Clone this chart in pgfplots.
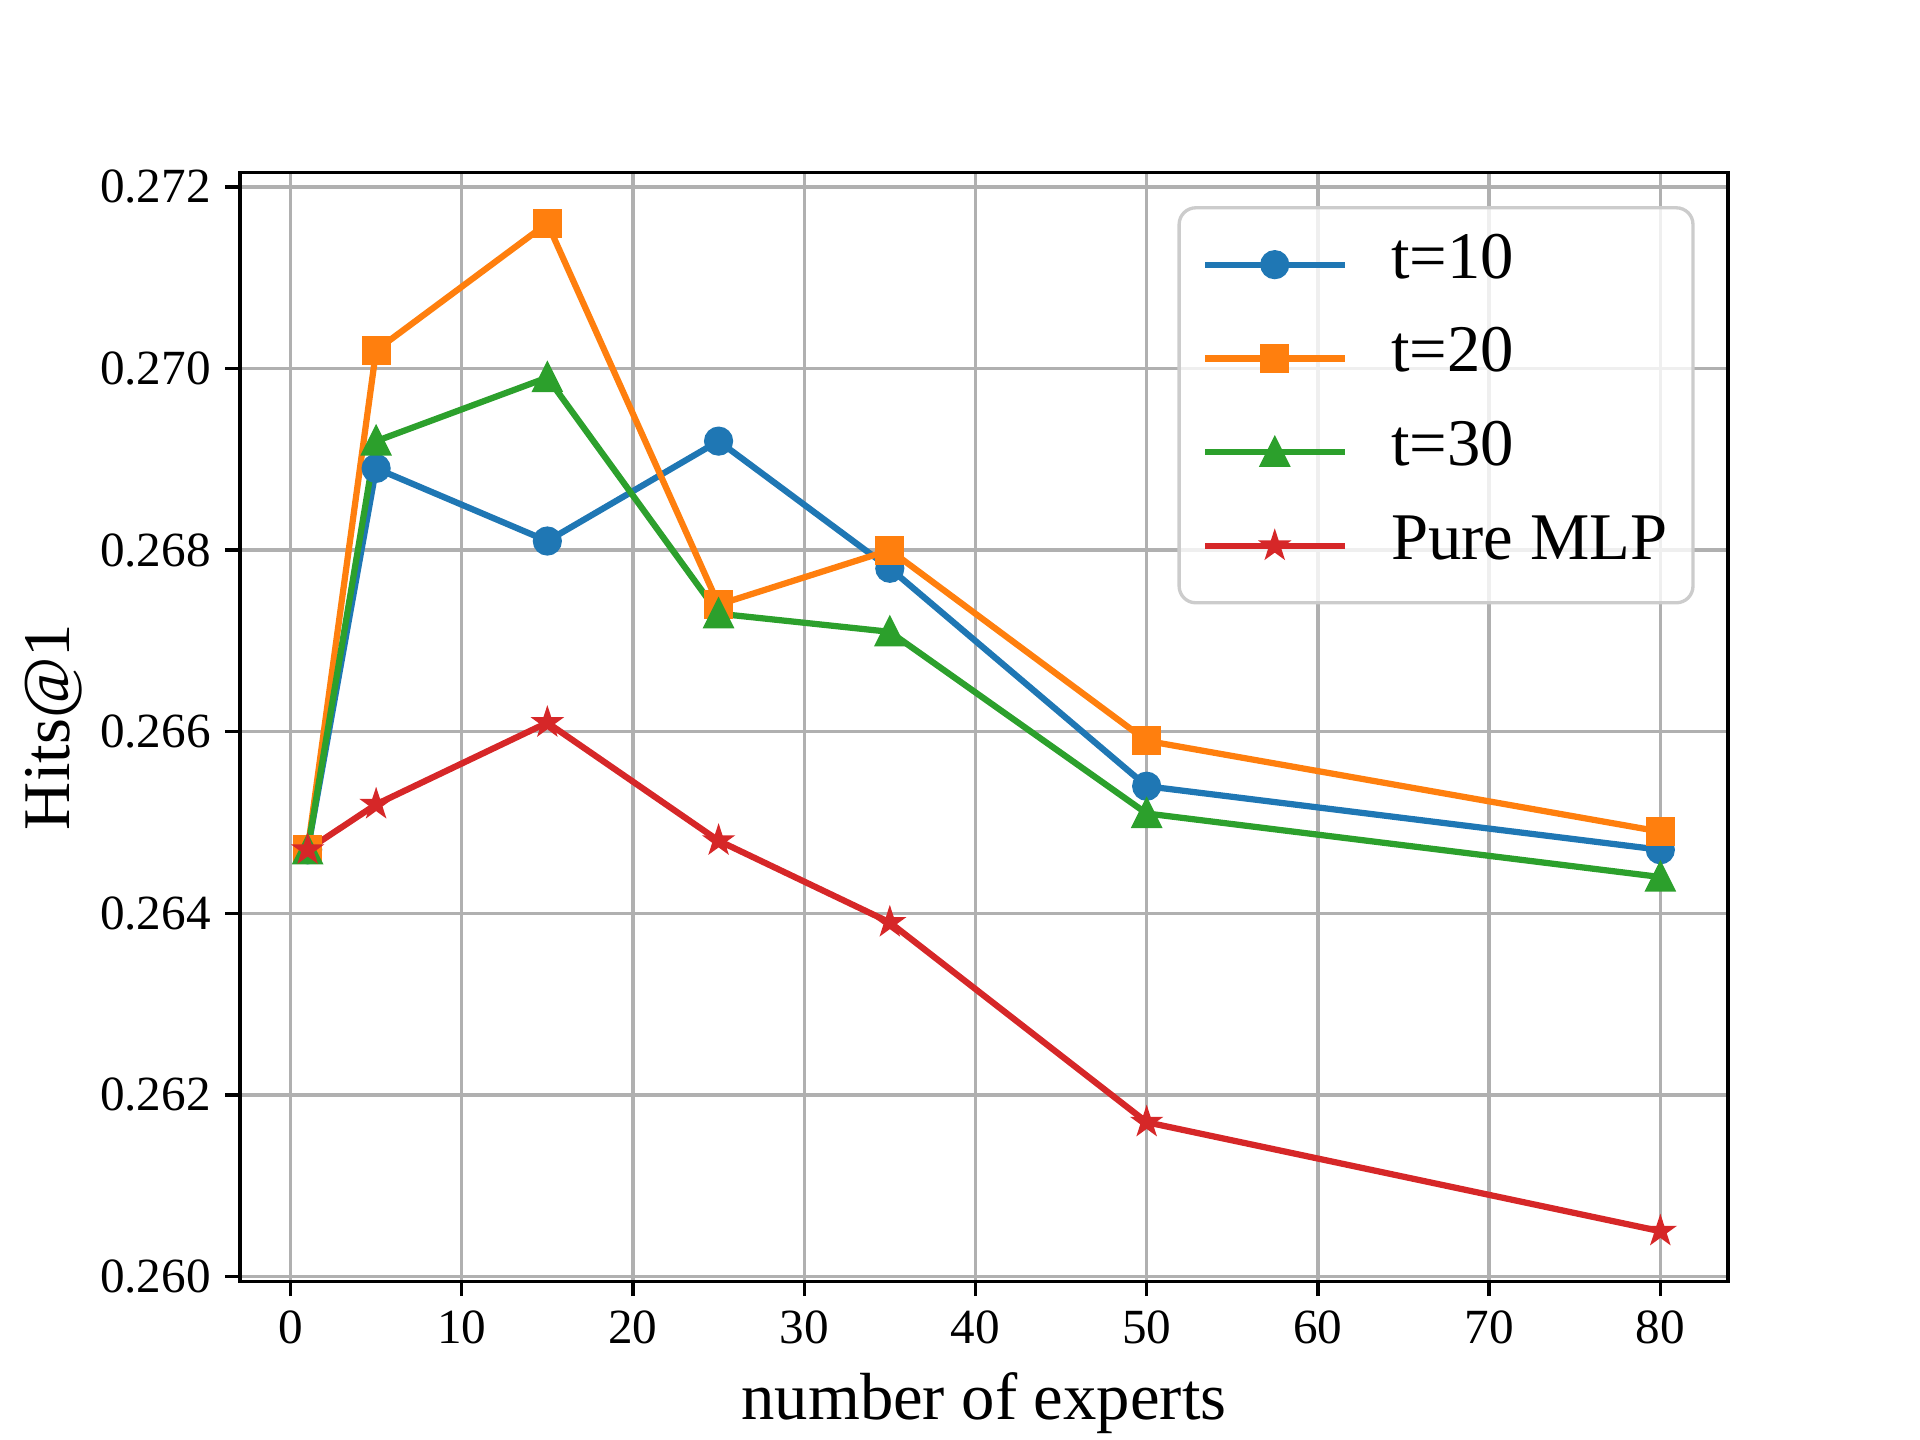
\documentclass[border=0pt]{standalone}
\usepackage{fontspec}
\setmainfont{Liberation Serif}
\usepackage{pgfplots}
\pgfplotsset{compat=1.18}
\definecolor{c1}{HTML}{1F77B4}
\definecolor{c2}{HTML}{FF7F0E}
\definecolor{c3}{HTML}{2CA02C}
\definecolor{c4}{HTML}{D62728}
\definecolor{gridc}{HTML}{B0B0B0}
\definecolor{legc}{HTML}{CCCCCC}
\pgfdeclareplotmark{mtri}{%
 \pgfpathmoveto{\pgfqpoint{0pt}{\pgfplotmarksize}}%
 \pgfpathlineto{\pgfqpoint{-\pgfplotmarksize}{-\pgfplotmarksize}}%
 \pgfpathlineto{\pgfqpoint{\pgfplotmarksize}{-\pgfplotmarksize}}%
 \pgfpathclose\pgfusepathqfillstroke}
\pgfdeclareplotmark{fstar}{%
 \pgfpathmoveto{\pgfqpointpolar{90}{\pgfplotmarksize}}%
 \pgfpathlineto{\pgfqpointpolar{126}{0.382\pgfplotmarksize}}%
 \pgfpathlineto{\pgfqpointpolar{162}{\pgfplotmarksize}}%
 \pgfpathlineto{\pgfqpointpolar{198}{0.382\pgfplotmarksize}}%
 \pgfpathlineto{\pgfqpointpolar{234}{\pgfplotmarksize}}%
 \pgfpathlineto{\pgfqpointpolar{270}{0.382\pgfplotmarksize}}%
 \pgfpathlineto{\pgfqpointpolar{306}{\pgfplotmarksize}}%
 \pgfpathlineto{\pgfqpointpolar{342}{0.382\pgfplotmarksize}}%
 \pgfpathlineto{\pgfqpointpolar{18}{\pgfplotmarksize}}%
 \pgfpathlineto{\pgfqpointpolar{54}{0.382\pgfplotmarksize}}%
 \pgfpathclose\pgfusepathqfillstroke}
\begin{document}
\begin{tikzpicture}
\path[use as bounding box] (-57.6pt,-38.016pt) rectangle (403.2pt,307.584pt);
\begin{axis}[
  at={(0pt,0pt)}, anchor=south west,
  scale only axis, width=357.12pt, height=266.112pt,
  xmin=-2.95, xmax=83.95, ymin=0.259945, ymax=0.272155,
  xtick={0,10,20,30,40,50,60,70,80},
  ytick={0.260,0.262,0.264,0.266,0.268,0.270,0.272},
  scaled y ticks=false,
  yticklabel style={/pgf/number format/fixed,/pgf/number format/fixed zerofill,/pgf/number format/precision=3},
  /pgf/number format/assume math mode=true,
  tick label style={font=\fontsize{11.8}{13.5}\selectfont},
  label style={font=\fontsize{16}{19}\selectfont},
  ylabel shift=-2.5pt,
  xlabel={number of experts}, ylabel={Hits@1},
  grid=major, grid style={color=gridc, line width=0.8pt},
  axis line style={line width=0.8pt},
  tick style={line width=0.8pt, black},
  major tick length=3.5pt, tick align=outside, tick pos=left,
  every axis plot/.append style={line width=1.5pt},
  legend cell align=left,
  legend image code/.code={\draw[fill opacity=1,line cap=rect,mark repeat=2,mark phase=2] plot coordinates {(0pt,0pt) (16pt,0pt) (32pt,0pt)};},
  legend style={at={(1,1)}, anchor=north east, xshift=-8pt, yshift=-8pt,
    draw=legc, line width=0.8pt, rounded corners=4pt, fill=white, fill opacity=0.8, text opacity=1,
    font=\fontsize{16}{19}\selectfont, inner xsep=6.2pt, inner ysep=6.4pt, row sep=8pt,
    nodes={inner sep=0pt, text height=10.5pt, text depth=4pt, anchor=west},
    /tikz/every odd column/.append style={column sep=11.2pt}},
]
\addplot[color=c1, mark=*, mark size=3pt, mark options={line width=1pt}] coordinates {
(1,0.2647) (5,0.2689) (15,0.2681) (25,0.2692) (35,0.2678) (50,0.2654) (80,0.2647)};
\addplot[color=c2, mark=square*, mark size=3pt, mark options={line width=1pt}] coordinates {
(1,0.2647) (5,0.2702) (15,0.2716) (25,0.2674) (35,0.2680) (50,0.2659) (80,0.2649)};
\addplot[color=c3, mark=mtri, mark size=3pt, mark options={line width=1pt}] coordinates {
(1,0.2647) (5,0.2692) (15,0.2699) (25,0.2673) (35,0.2671) (50,0.2651) (80,0.2644)};
\addplot[color=c4, mark=fstar, mark size=2.6pt, mark options={line width=1pt}] coordinates {
(1,0.2647) (5,0.2652) (15,0.2661) (25,0.2648) (35,0.2639) (50,0.2617) (80,0.2605)};
\legend{{t=10},{t=20},{t=30},{Pure MLP}}
\end{axis}
\end{tikzpicture}
\end{document}
